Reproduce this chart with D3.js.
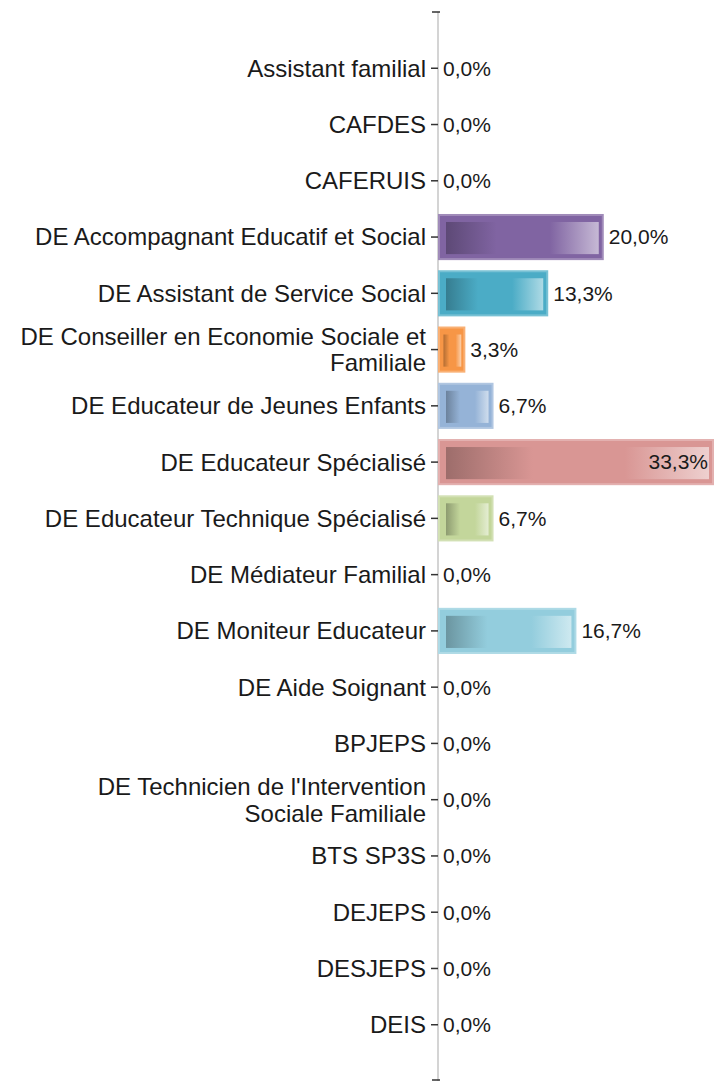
<!DOCTYPE html>
<html>
<head>
<meta charset="utf-8">
<script src="https://cdn.jsdelivr.net/npm/d3@7"></script>
<style>
  html, body { margin: 0; padding: 0; background: #fff; }
  svg text { font-family: "Liberation Sans", Arial, sans-serif; fill: #1a1a1a; }
</style>
</head>
<body>
<div id="chart"></div>
<script>
'use strict';

var categories = [
  "Assistant familial",
  "CAFDES",
  "CAFERUIS",
  "DE Accompagnant Educatif et Social",
  "DE Assistant de Service Social",
  "DE Conseiller en Economie Sociale et Familiale",
  "DE Educateur de Jeunes Enfants",
  "DE Educateur Spécialisé",
  "DE Educateur Technique Spécialisé",
  "DE Médiateur Familial",
  "DE Moniteur Educateur",
  "DE Aide Soignant",
  "BPJEPS",
  "DE Technicien de l'Intervention Sociale Familiale",
  "BTS SP3S",
  "DEJEPS",
  "DESJEPS",
  "DEIS"
];

// tick labels as shown, "|" marks a line break
var tickLabels = [
  "Assistant familial",
  "CAFDES",
  "CAFERUIS",
  "DE Accompagnant Educatif et Social",
  "DE Assistant de Service Social",
  "DE Conseiller en Economie Sociale et|Familiale",
  "DE Educateur de Jeunes Enfants",
  "DE Educateur Spécialisé",
  "DE Educateur Technique Spécialisé",
  "DE Médiateur Familial",
  "DE Moniteur Educateur",
  "DE Aide Soignant",
  "BPJEPS",
  "DE Technicien de l'Intervention|Sociale Familiale",
  "BTS SP3S",
  "DEJEPS",
  "DESJEPS",
  "DEIS"
];

// percentages
var percents = [0, 0, 0, 20.0, 13.3, 3.3, 6.7, 33.3, 6.7, 0, 16.7, 0, 0, 0, 0, 0, 0, 0];

// one colour per category (Excel style palette)
var palette = [
  "#4f81bd", "#c0504d", "#9bbb59", "#8064a2", "#4bacc6", "#f79646",
  "#95b3d7", "#d99694", "#c3d69b", "#b2a1c7", "#93cddd", "#fac090",
  "#4f81bd", "#c0504d", "#9bbb59", "#8064a2", "#4bacc6", "#f79646"
];

var W = 715, H = 1082;
var AXIS_X = 438, TOP = 12, BOTTOM = 1081;

var svg = d3.select("#chart").append("svg")
  .attr("width", W)
  .attr("height", H);

var defs = svg.append("defs");

var y = d3.scaleBand()
  .domain(categories)
  .range([TOP, BOTTOM])
  .paddingInner(0.18)
  .paddingOuter(0.59);

var x = d3.scaleLinear()
  .domain([0, 33.3])
  .range([AXIS_X, 714]);

var fmt = function (v) {
  return d3.format(".1f")(v).replace(".", ",") + "%";
};

// axis
var axis = svg.append("g")
  .attr("transform", "translate(" + AXIS_X + ",0)")
  .call(d3.axisLeft(y)
    .tickSize(7)
    .tickSizeOuter(0)
    .tickPadding(5)
    .tickFormat(function (d, i) { return tickLabels[i]; }));

axis.select(".domain")
  .attr("stroke", "#d4d4d4")
  .attr("stroke-width", 2)
  .attr("d", "M0," + TOP + "V" + BOTTOM);

axis.selectAll(".tick line")
  .attr("stroke", "#333")
  .attr("stroke-width", 1.5);

axis.selectAll(".tick text")
  .style("font-size", "24px")
  .attr("fill", "#1a1a1a")
  .call(splitLines);

// end ticks of the axis
axis.selectAll(".endtick")
  .data([TOP, BOTTOM - 1])
  .enter().append("line")
  .attr("class", "endtick")
  .attr("x1", -6).attr("x2", 2)
  .attr("y1", function (d) { return d; })
  .attr("y2", function (d) { return d; })
  .attr("stroke", "#333")
  .attr("stroke-width", 1.5);

function splitLines(texts) {
  texts.each(function () {
    var text = d3.select(this);
    var lines = text.text().split("|");
    var lh = 1.12;
    var first = -(lines.length - 1) * lh / 2 + 0.35;
    text.text(null).attr("dy", null);
    lines.forEach(function (l, i) {
      text.append("tspan")
        .attr("x", text.attr("x"))
        .attr("dy", (i === 0 ? first : lh) + "em")
        .text(l);
    });
  });
}

// bars
var rows = categories.map(function (c, i) {
  return { name: c, value: percents[i], color: palette[i], i: i };
});

rows.forEach(function (d) {
  var base = d3.color(d.color);
  var g = defs.append("linearGradient")
    .attr("id", "grad" + d.i)
    .attr("x1", "0%").attr("x2", "100%")
    .attr("y1", "0%").attr("y2", "0%");
  g.append("stop").attr("offset", "0%").attr("stop-color", base.darker(0.9));
  g.append("stop").attr("offset", "33%").attr("stop-color", base);
  g.append("stop").attr("offset", "68%").attr("stop-color", base);
  g.append("stop").attr("offset", "100%").attr("stop-color", d3.interpolateRgb(base, "#fff")(0.55));
});

var bars = svg.append("g").attr("class", "bars")
  .selectAll("g")
  .data(rows.filter(function (d) { return d.value > 0; }))
  .enter().append("g");

bars.append("rect")
  .attr("x", x(0) + 1)
  .attr("y", function (d) { return y(d.name) + 1; })
  .attr("width", function (d) { return x(d.value) - x(0) - 2; })
  .attr("height", y.bandwidth() - 2)
  .attr("fill", function (d) { return d.color; })
  .attr("stroke", function (d) { return d3.interpolateRgb(d.color, "#fff")(0.25); })
  .attr("stroke-width", 2);

bars.append("rect")
  .attr("x", function (d) { return x(0) + Math.min(8, (x(d.value) - x(0)) * 0.2); })
  .attr("y", function (d) { return y(d.name) + 8; })
  .attr("width", function (d) {
    var w = x(d.value) - x(0);
    return w - Math.min(8, w * 0.2) - Math.min(5, w * 0.15);
  })
  .attr("height", y.bandwidth() - 14)
  .attr("fill", function (d) { return "url(#grad" + d.i + ")"; });

// value labels
svg.append("g").attr("class", "values")
  .selectAll("text")
  .data(rows)
  .enter().append("text")
  .attr("x", function (d) { return d.value > 30 ? x(d.value) - 6 : x(d.value) + 5; })
  .attr("y", function (d) { return y(d.name) + y.bandwidth() / 2; })
  .attr("dy", "0.35em")
  .attr("text-anchor", function (d) { return d.value > 30 ? "end" : "start"; })
  .style("font-size", "21px")
  .text(function (d) { return fmt(d.value); });
</script>
</body>
</html>
